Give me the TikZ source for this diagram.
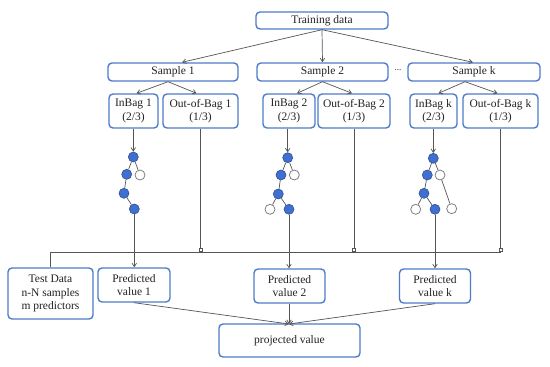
\documentclass[tikz,border=0pt]{standalone}
\usepackage{fontspec}
\setmainfont{Liberation Serif}
\usetikzlibrary{arrows.meta}
\definecolor{boxblue}{HTML}{4F7CC9}
\definecolor{nodeblue}{HTML}{3F6FD1}
\definecolor{nodeedge}{HTML}{2F4F8F}
\definecolor{linegray}{HTML}{555555}
\definecolor{txt}{HTML}{222222}
\tikzset{
  box/.style={draw=boxblue, line width=1.4pt, rounded corners=4pt, fill=white,
    text=txt, align=center, inner sep=0pt,
    font=\fontsize{11.5}{13.5}\selectfont},
  conn/.style={draw=linegray, line width=0.7pt},
  arr/.style={conn, -{Straight Barb[length=3.5pt,width=4.5pt]}},
  sq/.style={conn, -{Square[open,length=4pt,width=4pt,line width=0.6pt]}},
  bn/.style={circle, draw=nodeedge, fill=nodeblue, line width=0.6pt, minimum size=10pt, inner sep=0pt},
  wn/.style={circle, draw=gray, fill=white, line width=0.8pt, minimum size=10pt, inner sep=0pt},
}
\begin{document}
\begin{tikzpicture}[x=1pt,y=-1pt]
\useasboundingbox[fill=white] (0,0) rectangle (550,367);

% top level
\node[box, minimum width=132pt, minimum height=17pt] (train) at (322,20.5) {Training data};
\node[box, minimum width=130pt, minimum height=18pt] (s1) at (173,72) {Sample 1};
\node[box, minimum width=131pt, minimum height=18pt] (s2) at (322.5,72) {Sample 2};
\node[box, minimum width=132pt, minimum height=18pt] (sk) at (474,72) {Sample k};
\node[text=txt, font=\fontsize{9}{10}\selectfont] (dots) at (398,70) {...};

% bags
\node[box, minimum width=49pt, minimum height=34pt] (ib1) at (133.5,111) {InBag 1\\(2/3)};
\node[box, minimum width=75pt, minimum height=34pt] (ob1) at (200.5,111) {Out-of-Bag 1\\(1/3)};
\node[box, minimum width=52pt, minimum height=34pt] (ib2) at (289,111) {InBag 2\\(2/3)};
\node[box, minimum width=72pt, minimum height=34pt] (ob2) at (354,111) {Out-of-Bag 2\\(1/3)};
\node[box, minimum width=47pt, minimum height=34pt] (ibk) at (433.5,111) {InBag k\\(2/3)};
\node[box, minimum width=75pt, minimum height=34pt] (obk) at (500.5,111) {Out-of-Bag k\\(1/3)};

% predictions
\node[box, minimum width=85pt, minimum height=51pt] (test) at (50.5,293.5) {Test Data\\n-N samples\\m predictors};
\node[box, minimum width=72pt, minimum height=34pt] (pv1) at (134,285) {Predicted\\value 1};
\node[box, minimum width=71pt, minimum height=34pt] (pv2) at (289.5,286) {Predicted\\value 2};
\node[box, minimum width=71pt, minimum height=34pt] (pvk) at (435,286) {Predicted\\value k};
\node[box, minimum width=141pt, minimum height=33pt] (proj) at (289.5,340.5) {projected value};

% arrows from training data
\draw[arr] (train.south) -- ([xshift=9pt]s1.north);
\draw[arr] (train.south) -- (s2.north);
\draw[arr] (train.south) -- ([xshift=-1pt]sk.north);

% samples to bags
\draw[arr] ([xshift=-5pt]s1.south) -- ([xshift=3pt]ib1.north);
\draw[arr] ([xshift=-5pt]s1.south) -- ([xshift=-4pt]ob1.north);
\draw[arr] (s2.south) -- ([xshift=8pt]ib2.north);
\draw[arr] (s2.south) -- ([xshift=-2pt]ob2.north);
\draw[arr] ([xshift=-9pt]sk.south) -- ([xshift=5pt]ibk.north);
\draw[arr] ([xshift=-9pt]sk.south) -- ([xshift=-3pt]obk.north);

% tree 1
\node[bn] (a1) at (133.3,157) {};
\node[bn] (a2) at (126.7,174.3) {};
\node[wn] (a3) at (140,175) {};
\node[bn] (a4) at (124,193.3) {};
\node[bn] (a5) at (134.3,209) {};
\draw[conn] (a1) -- (a2); \draw[conn] (a1) -- (a3);
\draw[conn] (a2) -- (a4); \draw[conn] (a4) -- (a5);

% tree 2
\node[bn] (b1) at (287.7,157.7) {};
\node[bn] (b2) at (281,175) {};
\node[wn] (b3) at (294.3,175) {};
\node[bn] (b4) at (278.3,194) {};
\node[wn] (b5) at (270,209.3) {};
\node[bn] (b6) at (289,209.3) {};
\draw[conn] (b1) -- (b2); \draw[conn] (b1) -- (b3);
\draw[conn] (b2) -- (b4); \draw[conn] (b4) -- (b5); \draw[conn] (b4) -- (b6);

% tree k
\node[bn] (c1) at (433.3,158.3) {};
\node[bn] (c2) at (427.3,175) {};
\node[wn] (c3) at (440,175) {};
\node[bn] (c4) at (424,193.3) {};
\node[wn] (c5) at (415.7,209.3) {};
\node[bn] (c6) at (435,209.3) {};
\node[wn] (c7) at (451.7,208.7) {};
\draw[conn] (c1) -- (c2); \draw[conn] (c1) -- (c3);
\draw[conn] (c2) -- (c4); \draw[conn] (c4) -- (c5); \draw[conn] (c4) -- (c6);
\draw[conn] (c3) -- (c7);

% inbag to tree roots
\draw[arr] (ib1.south -| a1) -- (a1.north);
\draw[arr] (ib2.south -| b1) -- (b1.north);
\draw[arr] (ibk.south -| c1) -- (c1.north);

% horizontal test-data line
\coordinate (hl) at (50,252);
\coordinate (hr) at (500.5,252);
\draw[conn] (test.north -| hl) -- (hl) -- (hr);
\draw[sq] (ob1.south) -- (ob1.south |- hl);
\draw[sq] (ob2.south) -- (ob2.south |- hl);
\draw[sq] (obk.south) -- (obk.south |- hl);

% trees to predictions
\draw[arr] (a5.south) -- (a5.south |- pv1.north);
\draw[arr] (b6.south) -- (b6.south |- pv2.north);
\draw[arr] (c6.south) -- (c6.south |- pvk.north);

% predictions to projected value
\coordinate (pj) at (289,324);
\draw[arr] (pv1.south) -- (pj);
\draw[arr] ([xshift=-0.5pt]pv2.south) -- (pj);
\draw[arr] (pvk.south) -- (pj);
\end{tikzpicture}
\end{document}
